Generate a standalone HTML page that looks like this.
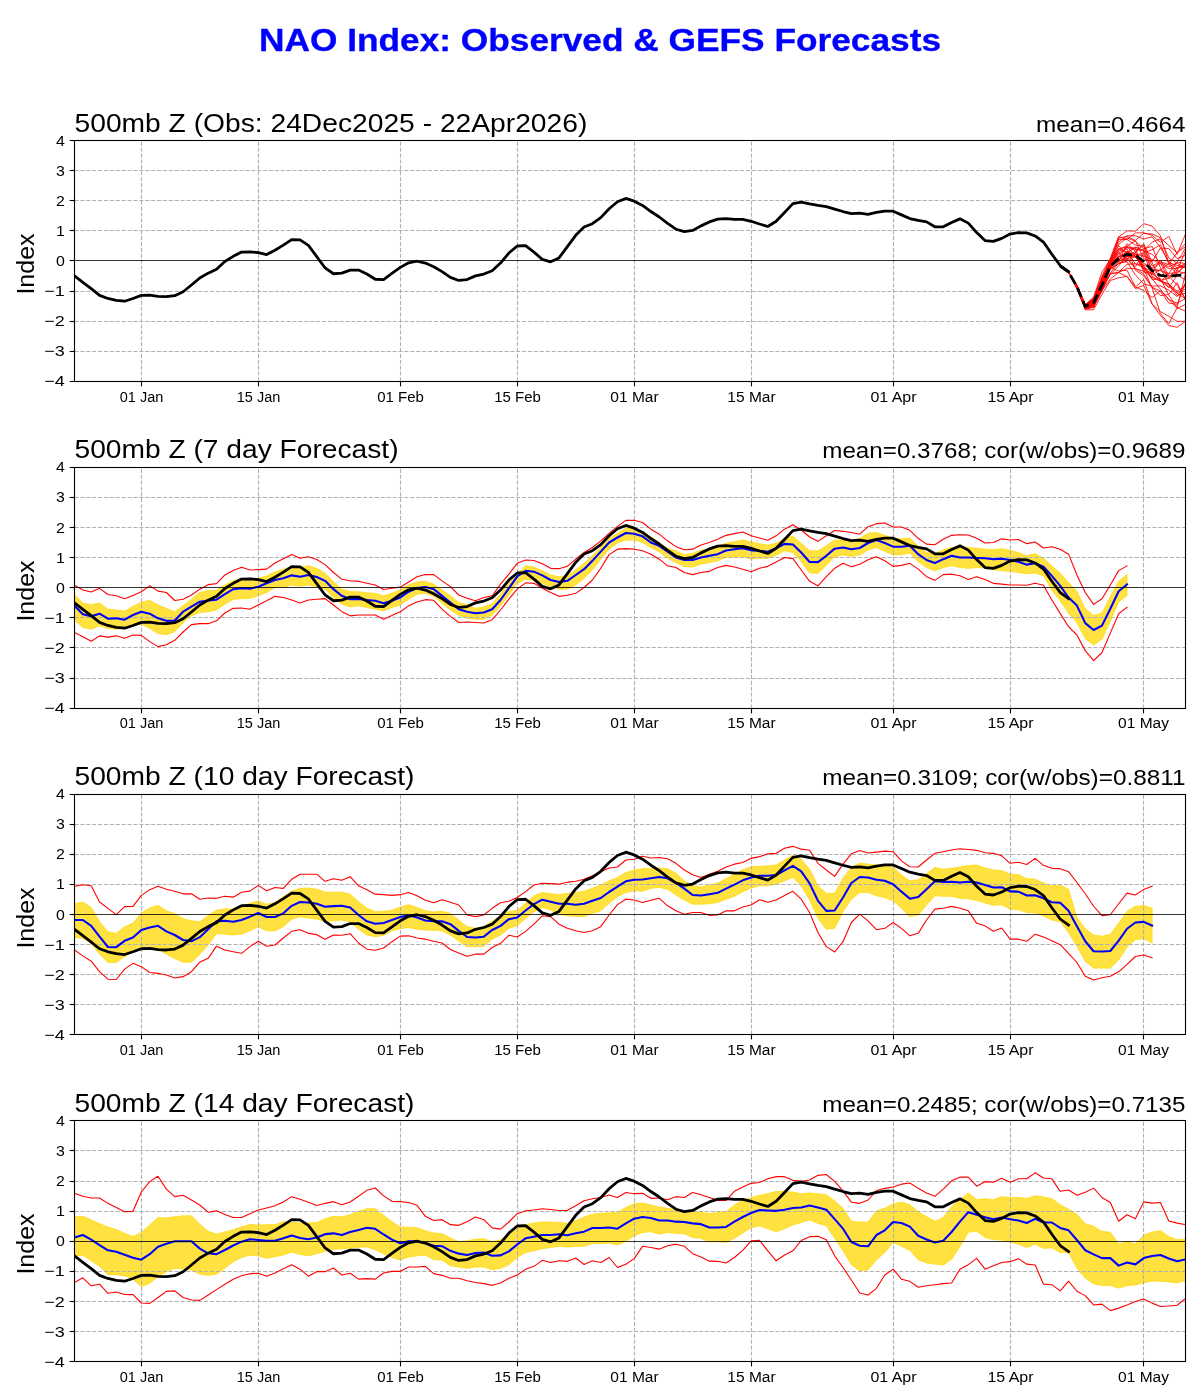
<!DOCTYPE html>
<html><head><meta charset="utf-8"><title>NAO Index</title>
<style>
html,body{margin:0;padding:0;background:#fff;overflow:hidden;}
svg{display:block;font-family:"Liberation Sans", sans-serif;will-change:transform;}
.gh{stroke:#b0b0b0;stroke-width:1.11;stroke-dasharray:4.11 1.78;}
.gv{stroke:#b0b0b0;stroke-width:1.11;stroke-dasharray:4.11 1.78;}
.zl{stroke:#000;stroke-width:0.8;}
.tk{stroke:#000;stroke-width:1.11;}
.obs{fill:none;stroke:#000;stroke-width:2.78;stroke-linejoin:round;stroke-linecap:square;}
.emean{fill:none;stroke:#000;stroke-width:2.78;stroke-dasharray:9.94 4.25;stroke-linejoin:round;}
.mem{fill:none;stroke:#ff0000;stroke-width:0.85;stroke-linejoin:round;}
.red{fill:none;stroke:#ff0000;stroke-width:1.1;stroke-linejoin:round;stroke-linecap:square;}
.blue{fill:none;stroke:#0000ff;stroke-width:2.08;stroke-linejoin:round;stroke-linecap:square;}
.band{fill:#ffe140;stroke:#ffd910;stroke-width:0.8;}
</style></head>
<body>
<svg width="1200" height="1400" viewBox="0 0 1200 1400">
<rect width="1200" height="1400" fill="#fff"/>
<text x="600" y="50.8" font-size="31.30" text-anchor="middle" textLength="682.09" lengthAdjust="spacingAndGlyphs" font-weight="bold" fill="#0000ff" stroke="#0000ff" stroke-width="0.35">NAO Index: Observed &amp; GEFS Forecasts</text>
<clipPath id="c0"><rect x="74.5" y="140.5" width="1111" height="241"/></clipPath>
<g clip-path="url(#c0)">
<line x1="74.5" y1="170.5" x2="1185.5" y2="170.5" class="gh"/>
<line x1="74.5" y1="200.5" x2="1185.5" y2="200.5" class="gh"/>
<line x1="74.5" y1="230.5" x2="1185.5" y2="230.5" class="gh"/>
<line x1="74.5" y1="291.5" x2="1185.5" y2="291.5" class="gh"/>
<line x1="74.5" y1="321.5" x2="1185.5" y2="321.5" class="gh"/>
<line x1="74.5" y1="351.5" x2="1185.5" y2="351.5" class="gh"/>
<line x1="141.5" y1="381.5" x2="141.5" y2="140.5" class="gv"/>
<line x1="258.5" y1="381.5" x2="258.5" y2="140.5" class="gv"/>
<line x1="400.5" y1="381.5" x2="400.5" y2="140.5" class="gv"/>
<line x1="517.5" y1="381.5" x2="517.5" y2="140.5" class="gv"/>
<line x1="634.5" y1="381.5" x2="634.5" y2="140.5" class="gv"/>
<line x1="751.5" y1="381.5" x2="751.5" y2="140.5" class="gv"/>
<line x1="893.5" y1="381.5" x2="893.5" y2="140.5" class="gv"/>
<line x1="1010.5" y1="381.5" x2="1010.5" y2="140.5" class="gv"/>
<line x1="1143.5" y1="381.5" x2="1143.5" y2="140.5" class="gv"/>
<line x1="74.5" y1="260.5" x2="1185.5" y2="260.5" class="zl"/>
<polyline points="1060.2,266.12 1068.55,272.15 1076.91,285.8 1085.26,305.93 1093.61,299.78 1101.97,281.29 1110.32,263.6 1118.67,251.29 1127.03,247.64 1135.38,249.39 1143.73,250.79 1152.09,242.1 1160.44,238.84 1168.79,257.86 1177.15,263.4 1185.5,268.04" class="mem"/>
<polyline points="1060.2,266.12 1068.55,272.15 1076.91,286.95 1085.26,307.38 1093.61,304.37 1101.97,286.06 1110.32,268.04 1118.67,263.53 1127.03,261.01 1135.38,256.37 1143.73,267.5 1152.09,271.13 1160.44,281.1 1168.79,286.6 1177.15,292.81 1185.5,289" class="mem"/>
<polyline points="1060.2,266.12 1068.55,272.15 1076.91,286.42 1085.26,305.82 1093.61,300.26 1101.97,279.21 1110.32,266.99 1118.67,260.66 1127.03,251.07 1135.38,263.89 1143.73,264.91 1152.09,268.89 1160.44,270.64 1168.79,273.44 1177.15,261.96 1185.5,248.17" class="mem"/>
<polyline points="1060.2,266.12 1068.55,272.15 1076.91,285.16 1085.26,305.19 1093.61,298.97 1101.97,281.24 1110.32,264.53 1118.67,239.32 1127.03,239.6 1135.38,232.88 1143.73,232.79 1152.09,235.29 1160.44,242.46 1168.79,236.3 1177.15,254.49 1185.5,233.96" class="mem"/>
<polyline points="1060.2,266.12 1068.55,272.15 1076.91,285.69 1085.26,305.09 1093.61,297.63 1101.97,278.07 1110.32,261.18 1118.67,238.01 1127.03,236.47 1135.38,240.35 1143.73,233.48 1152.09,233.96 1160.44,237.67 1168.79,245.65 1177.15,252.64 1185.5,243.68" class="mem"/>
<polyline points="1060.2,266.12 1068.55,272.15 1076.91,287.96 1085.26,308.56 1093.61,306.87 1101.97,289.21 1110.32,267.52 1118.67,270.98 1127.03,270.16 1135.38,286.91 1143.73,290.52 1152.09,297.53 1160.44,290.63 1168.79,299.09 1177.15,308.42 1185.5,304.31" class="mem"/>
<polyline points="1060.2,266.12 1068.55,272.15 1076.91,287.23 1085.26,306.69 1093.61,303.65 1101.97,284.62 1110.32,264.98 1118.67,253.09 1127.03,248.73 1135.38,270.24 1143.73,275.92 1152.09,287.23 1160.44,295.62 1168.79,294.49 1177.15,282.79 1185.5,299.81" class="mem"/>
<polyline points="1060.2,266.12 1068.55,272.15 1076.91,286.55 1085.26,306.02 1093.61,299.87 1101.97,279.86 1110.32,263.02 1118.67,249.05 1127.03,246.27 1135.38,256.63 1143.73,269.5 1152.09,273.33 1160.44,280.81 1168.79,277.98 1177.15,267.63 1185.5,267.41" class="mem"/>
<polyline points="1060.2,266.12 1068.55,272.15 1076.91,288.72 1085.26,309.8 1093.61,309.8 1101.97,294.28 1110.32,280.58 1118.67,277.78 1127.03,276.35 1135.38,287.05 1143.73,279.55 1152.09,304.03 1160.44,315.42 1168.79,325.47 1177.15,327.27 1185.5,321.25" class="mem"/>
<polyline points="1060.2,266.12 1068.55,272.15 1076.91,286.45 1085.26,306.72 1093.61,305.51 1101.97,287.78 1110.32,264.44 1118.67,256.47 1127.03,256.32 1135.38,256.91 1143.73,267.08 1152.09,279.63 1160.44,278.55 1168.79,295.13 1177.15,307.42 1185.5,273.67" class="mem"/>
<polyline points="1060.2,266.12 1068.55,272.15 1076.91,287.18 1085.26,309.41 1093.61,307.06 1101.97,290.08 1110.32,272.68 1118.67,263.28 1127.03,261.72 1135.38,274.86 1143.73,284.07 1152.09,286.1 1160.44,285.87 1168.79,290.19 1177.15,296.59 1185.5,283.31" class="mem"/>
<polyline points="1060.2,266.12 1068.55,272.15 1076.91,286.34 1085.26,306.47 1093.61,305.01 1101.97,286.6 1110.32,266.43 1118.67,257.03 1127.03,252.13 1135.38,253.72 1143.73,265.88 1152.09,278.63 1160.44,289.25 1168.79,299.77 1177.15,303.12 1185.5,298.58" class="mem"/>
<polyline points="1060.2,266.12 1068.55,272.15 1076.91,286.2 1085.26,305.81 1093.61,302.46 1101.97,279.91 1110.32,259.94 1118.67,237.03 1127.03,230.88 1135.38,231.18 1143.73,223.64 1152.09,226.06 1160.44,235.83 1168.79,262.98 1177.15,265.3 1185.5,267.43" class="mem"/>
<polyline points="1060.2,266.12 1068.55,272.15 1076.91,286.03 1085.26,306.8 1093.61,303.83 1101.97,288.57 1110.32,274.27 1118.67,265.82 1127.03,255.59 1135.38,255.98 1143.73,252.6 1152.09,249.79 1160.44,244.61 1168.79,263.98 1177.15,274.64 1185.5,280.37" class="mem"/>
<polyline points="1060.2,266.12 1068.55,272.15 1076.91,286.38 1085.26,305.64 1093.61,299.8 1101.97,282.7 1110.32,264.85 1118.67,252.96 1127.03,259.18 1135.38,254.3 1143.73,256.11 1152.09,259.45 1160.44,263.63 1168.79,268.54 1177.15,268.61 1185.5,263.78" class="mem"/>
<polyline points="1060.2,266.12 1068.55,272.15 1076.91,286.56 1085.26,306.78 1093.61,303.47 1101.97,283.13 1110.32,264.45 1118.67,261.58 1127.03,256.87 1135.38,251.35 1143.73,244.59 1152.09,272.44 1160.44,259.95 1168.79,275.98 1177.15,273.66 1185.5,264.92" class="mem"/>
<polyline points="1060.2,266.12 1068.55,272.15 1076.91,285.8 1085.26,305.85 1093.61,300.28 1101.97,280.07 1110.32,260.99 1118.67,245.69 1127.03,254.8 1135.38,256.31 1143.73,263.34 1152.09,267.97 1160.44,263.29 1168.79,278.73 1177.15,270.66 1185.5,250.89" class="mem"/>
<polyline points="1060.2,266.12 1068.55,272.15 1076.91,285.21 1085.26,304.68 1093.61,297.15 1101.97,272.31 1110.32,259.22 1118.67,241.97 1127.03,235.73 1135.38,235.69 1143.73,239.1 1152.09,236.76 1160.44,247.62 1168.79,261.35 1177.15,268.06 1185.5,263.12" class="mem"/>
<polyline points="1060.2,266.12 1068.55,272.15 1076.91,287.17 1085.26,307.22 1093.61,304.84 1101.97,288.77 1110.32,265.3 1118.67,255.62 1127.03,246.97 1135.38,248.03 1143.73,269.01 1152.09,287.82 1160.44,313.67 1168.79,323.55 1177.15,307.66 1185.5,311.1" class="mem"/>
<polyline points="1060.2,266.12 1068.55,272.15 1076.91,286.41 1085.26,306.58 1093.61,301.9 1101.97,285.17 1110.32,265.32 1118.67,256.47 1127.03,253.17 1135.38,247.13 1143.73,250.93 1152.09,254.24 1160.44,262.32 1168.79,266.91 1177.15,262.65 1185.5,263.39" class="mem"/>
<polyline points="1060.2,266.12 1068.55,272.15 1076.91,285.42 1085.26,304.68 1093.61,298.48 1101.97,276.36 1110.32,258.26 1118.67,236.61 1127.03,239.5 1135.38,244.98 1143.73,246.32 1152.09,266.01 1160.44,261.6 1168.79,264.67 1177.15,252.43 1185.5,246.76" class="mem"/>
<polyline points="1060.2,266.12 1068.55,272.15 1076.91,285.86 1085.26,305.87 1093.61,301.08 1101.97,278.93 1110.32,264.38 1118.67,260.89 1127.03,258.69 1135.38,266.92 1143.73,252.53 1152.09,276.43 1160.44,281.48 1168.79,273.66 1177.15,272.4 1185.5,265.14" class="mem"/>
<polyline points="1060.2,266.12 1068.55,272.15 1076.91,285.61 1085.26,304.99 1093.61,299.89 1101.97,276.89 1110.32,261.71 1118.67,248.49 1127.03,252.15 1135.38,247.45 1143.73,250.16 1152.09,271.27 1160.44,270.02 1168.79,263.17 1177.15,271 1185.5,273.45" class="mem"/>
<polyline points="1060.2,266.12 1068.55,272.15 1076.91,286.96 1085.26,307.35 1093.61,307.07 1101.97,285.43 1110.32,269.18 1118.67,263.6 1127.03,258.74 1135.38,268.8 1143.73,271.08 1152.09,277.43 1160.44,281.19 1168.79,283.96 1177.15,293.27 1185.5,299" class="mem"/>
<polyline points="1060.2,266.12 1068.55,272.15 1076.91,286.71 1085.26,307.14 1093.61,304.23 1101.97,287.36 1110.32,264.78 1118.67,244.34 1127.03,237.9 1135.38,241.17 1143.73,248.87 1152.09,246.4 1160.44,267.95 1168.79,284.39 1177.15,291.13 1185.5,285.9" class="mem"/>
<polyline points="1060.2,266.12 1068.55,272.15 1076.91,287.16 1085.26,306.6 1093.61,304.37 1101.97,290.81 1110.32,278.93 1118.67,272.55 1127.03,276.66 1135.38,288.62 1143.73,285.42 1152.09,304.08 1160.44,311.62 1168.79,316.26 1177.15,321.35 1185.5,321.25" class="mem"/>
<polyline points="1060.2,266.12 1068.55,272.15 1076.91,288.72 1085.26,308.7 1093.61,306.82 1101.97,289.05 1110.32,274.04 1118.67,272.51 1127.03,268.37 1135.38,268.56 1143.73,273.92 1152.09,287.22 1160.44,291.21 1168.79,303.04 1177.15,304.36 1185.5,282.87" class="mem"/>
<polyline points="1060.2,266.12 1068.55,272.15 1076.91,286.19 1085.26,306.49 1093.61,301.48 1101.97,286.98 1110.32,267.16 1118.67,249.52 1127.03,246.21 1135.38,240.79 1143.73,258.68 1152.09,261.69 1160.44,248.02 1168.79,248.59 1177.15,258.7 1185.5,255.26" class="mem"/>
<polyline points="1060.2,266.12 1068.55,272.15 1076.91,287.49 1085.26,308.19 1093.61,307.32 1101.97,290.61 1110.32,273.63 1118.67,272.28 1127.03,264.27 1135.38,263.86 1143.73,267.63 1152.09,275.02 1160.44,269.94 1168.79,275.91 1177.15,285.37 1185.5,299.01" class="mem"/>
<polyline points="1060.2,266.12 1068.55,272.15 1076.91,287.23 1085.26,307.32 1093.61,306.02 1101.97,289.25 1110.32,269.29 1118.67,261.86 1127.03,243.75 1135.38,251.27 1143.73,272.18 1152.09,273.18 1160.44,279.77 1168.79,287.91 1177.15,275.19 1185.5,271.99" class="mem"/>
<polyline points="1060.2,266.12 1068.55,272.15 1076.91,287.51 1085.26,307.71 1093.61,304.05 1101.97,288.57 1110.32,268.03 1118.67,258.02 1127.03,258.47 1135.38,252.75 1143.73,243.81 1152.09,262.43 1160.44,280.43 1168.79,284.48 1177.15,295.44 1185.5,293.29" class="mem"/>
<polyline points="74.5,275.88 82.85,282.3 91.21,288.68 99.56,295.4 107.91,298.45 116.27,300.28 124.62,301.22 132.97,298.45 141.33,295.4 149.68,295.1 158.03,296.34 166.39,296.64 174.74,295.7 183.09,291.76 191.45,285.04 199.8,278.02 208.15,273.14 216.51,269.16 224.86,261.54 233.21,256.36 241.57,252.11 249.92,251.78 258.27,252.72 266.63,254.55 274.98,250.28 283.33,245.09 291.69,239.58 300.04,239.91 308.39,245.4 316.75,256.66 325.1,267.96 333.45,273.74 341.81,273.14 350.16,270.1 358.52,270.1 366.87,274.04 375.22,279.26 383.58,279.56 391.93,273.44 400.28,267.36 408.64,262.78 416.99,261.24 425.34,263.08 433.7,266.72 442.05,271.6 450.4,277.42 458.76,280.46 467.11,279.56 475.46,275.88 483.82,274.04 492.17,270.7 500.52,263.08 508.88,253.02 517.23,246 525.58,245.7 533.94,252.11 542.29,259.4 550.64,261.84 559,257.9 567.35,246.6 575.7,235.33 584.06,227.08 592.41,223.74 600.76,217.62 609.12,208.79 617.47,201.77 625.82,198.43 634.18,201.17 642.53,205.42 650.88,211.53 659.24,217.02 667.59,223.43 675.94,229.22 684.3,231.66 692.65,230.45 701,225.87 709.36,221.9 717.71,219.16 726.06,218.55 734.42,219.46 742.77,219.46 751.12,221.3 759.48,224.04 767.83,226.48 776.18,221.3 784.54,212.44 792.89,203.61 801.24,202.08 809.6,203.91 817.95,205.42 826.3,206.65 834.66,209.09 843.01,211.53 851.36,213.67 859.72,213.07 868.07,214.28 876.42,212.44 884.78,211.23 893.13,211.23 901.48,214.88 909.84,218.55 918.19,220.39 926.55,221.9 934.9,226.78 943.25,226.78 951.61,222.5 959.96,218.86 968.31,223.13 976.67,232.59 985.02,240.51 993.37,241.42 1001.73,238.38 1010.08,234.1 1018.43,232.59 1026.79,232.89 1035.14,235.94 1043.49,242.02 1051.85,254.22 1060.2,265.52 1068.55,271.6" class="obs"/>
<polyline points="1060.2,266.12 1068.55,272.15 1076.91,286.61 1085.26,306.49 1093.61,302.57 1101.97,285.1 1110.32,266.42 1118.67,258.59 1127.03,254.37 1135.38,255.28 1143.73,261.3 1152.09,270.64 1160.44,275.46 1168.79,276.36 1177.15,275.46 1185.5,274.86" class="emean"/>
</g>
<rect x="74.5" y="140.5" width="1111" height="241" fill="none" stroke="#000" stroke-width="1.1"/>
<line x1="69.64" y1="140.5" x2="74.5" y2="140.5" class="tk"/>
<text x="64.78" y="146" font-size="14.72" text-anchor="end" textLength="8.84" lengthAdjust="spacingAndGlyphs" fill="#000">4</text>
<line x1="69.64" y1="170.5" x2="74.5" y2="170.5" class="tk"/>
<text x="64.78" y="176" font-size="14.72" text-anchor="end" textLength="8.84" lengthAdjust="spacingAndGlyphs" fill="#000">3</text>
<line x1="69.64" y1="200.5" x2="74.5" y2="200.5" class="tk"/>
<text x="64.78" y="206" font-size="14.72" text-anchor="end" textLength="8.84" lengthAdjust="spacingAndGlyphs" fill="#000">2</text>
<line x1="69.64" y1="230.5" x2="74.5" y2="230.5" class="tk"/>
<text x="64.78" y="236" font-size="14.72" text-anchor="end" textLength="8.84" lengthAdjust="spacingAndGlyphs" fill="#000">1</text>
<line x1="69.64" y1="260.5" x2="74.5" y2="260.5" class="tk"/>
<text x="64.78" y="266" font-size="14.72" text-anchor="end" textLength="8.84" lengthAdjust="spacingAndGlyphs" fill="#000">0</text>
<line x1="69.64" y1="291.5" x2="74.5" y2="291.5" class="tk"/>
<text x="64.78" y="296" font-size="14.72" text-anchor="end" textLength="20.48" lengthAdjust="spacingAndGlyphs" fill="#000">−1</text>
<line x1="69.64" y1="321.5" x2="74.5" y2="321.5" class="tk"/>
<text x="64.78" y="326" font-size="14.72" text-anchor="end" textLength="20.48" lengthAdjust="spacingAndGlyphs" fill="#000">−2</text>
<line x1="69.64" y1="351.5" x2="74.5" y2="351.5" class="tk"/>
<text x="64.78" y="356" font-size="14.72" text-anchor="end" textLength="20.48" lengthAdjust="spacingAndGlyphs" fill="#000">−3</text>
<line x1="69.64" y1="381.5" x2="74.5" y2="381.5" class="tk"/>
<text x="64.78" y="386" font-size="14.72" text-anchor="end" textLength="20.48" lengthAdjust="spacingAndGlyphs" fill="#000">−4</text>
<line x1="141.5" y1="381.5" x2="141.5" y2="386.36" class="tk"/>
<text x="141.5" y="402.2" font-size="14.72" text-anchor="middle" textLength="43.50" lengthAdjust="spacingAndGlyphs" fill="#000">01 Jan</text>
<line x1="258.5" y1="381.5" x2="258.5" y2="386.36" class="tk"/>
<text x="258.5" y="402.2" font-size="14.72" text-anchor="middle" textLength="43.50" lengthAdjust="spacingAndGlyphs" fill="#000">15 Jan</text>
<line x1="400.5" y1="381.5" x2="400.5" y2="386.36" class="tk"/>
<text x="400.5" y="402.2" font-size="14.72" text-anchor="middle" textLength="46.68" lengthAdjust="spacingAndGlyphs" fill="#000">01 Feb</text>
<line x1="517.5" y1="381.5" x2="517.5" y2="386.36" class="tk"/>
<text x="517.5" y="402.2" font-size="14.72" text-anchor="middle" textLength="46.68" lengthAdjust="spacingAndGlyphs" fill="#000">15 Feb</text>
<line x1="634.5" y1="381.5" x2="634.5" y2="386.36" class="tk"/>
<text x="634.5" y="402.2" font-size="14.72" text-anchor="middle" textLength="48.30" lengthAdjust="spacingAndGlyphs" fill="#000">01 Mar</text>
<line x1="751.5" y1="381.5" x2="751.5" y2="386.36" class="tk"/>
<text x="751.5" y="402.2" font-size="14.72" text-anchor="middle" textLength="48.30" lengthAdjust="spacingAndGlyphs" fill="#000">15 Mar</text>
<line x1="893.5" y1="381.5" x2="893.5" y2="386.36" class="tk"/>
<text x="893.5" y="402.2" font-size="14.72" text-anchor="middle" textLength="46.12" lengthAdjust="spacingAndGlyphs" fill="#000">01 Apr</text>
<line x1="1010.5" y1="381.5" x2="1010.5" y2="386.36" class="tk"/>
<text x="1010.5" y="402.2" font-size="14.72" text-anchor="middle" textLength="46.12" lengthAdjust="spacingAndGlyphs" fill="#000">15 Apr</text>
<line x1="1143.5" y1="381.5" x2="1143.5" y2="386.36" class="tk"/>
<text x="1143.5" y="402.2" font-size="14.72" text-anchor="middle" textLength="50.81" lengthAdjust="spacingAndGlyphs" fill="#000">01 May</text>
<text x="74.5" y="131.67" font-size="26.49" text-anchor="start" textLength="512.83" lengthAdjust="spacingAndGlyphs" fill="#000">500mb Z (Obs: 24Dec2025 - 22Apr2026)</text>
<text x="1185.5" y="131.67" font-size="22.07" text-anchor="end" textLength="149.41" lengthAdjust="spacingAndGlyphs" fill="#000">mean=0.4664</text>
<text x="0" y="0" font-size="23.54" text-anchor="middle" textLength="61.17" lengthAdjust="spacingAndGlyphs" transform="translate(33.8,264) rotate(-90)">Index</text>
<clipPath id="c1"><rect x="74.5" y="467.5" width="1111" height="241"/></clipPath>
<g clip-path="url(#c1)">
<polygon points="74.5,594.18 82.85,603.33 91.21,604.66 99.56,603 107.91,609.18 116.27,609.99 124.62,611.35 132.97,606.35 141.33,602.16 149.68,600.32 158.03,604.99 166.39,608.33 174.74,611.68 183.09,605.83 191.45,599.18 199.8,592.49 208.15,590.83 216.51,590.32 224.86,584.99 233.21,580.83 241.57,578.66 249.92,579.17 258.27,578.33 266.63,575.83 274.98,572 283.33,569.17 291.69,566.67 300.04,567 308.39,565.83 316.75,568.33 325.1,573.33 333.45,581.67 341.81,589.17 350.16,591.68 358.52,591.68 366.87,592.82 375.22,593.33 383.58,595.83 391.93,593.33 400.28,589.99 408.64,584.99 416.99,582.01 425.34,581.34 433.7,584.17 442.05,589.99 450.4,595.83 458.76,602.49 467.11,604.99 475.46,608.33 483.82,607.01 492.17,603.66 500.52,594.18 508.88,583.33 517.23,574.17 525.58,565.83 533.94,567 542.29,570.83 550.64,574.99 559,576.67 567.35,575.83 575.7,569.99 584.06,563.33 592.41,555.83 600.76,547.51 609.12,538.32 617.47,533.32 625.82,528.32 634.18,529.17 642.53,531.67 650.88,537 659.24,542.51 667.59,548.33 675.94,550.83 684.3,554.65 692.65,553.33 701,550.34 709.36,548.33 717.71,545.83 726.06,543.32 734.42,541.67 742.77,540.01 751.12,542 759.48,543.66 767.83,545.01 776.18,543.32 784.54,538.32 792.89,536.34 801.24,543.32 809.6,550.83 817.95,550.83 826.3,545.83 834.66,540.01 843.01,540.01 851.36,540.82 859.72,538.32 868.07,533.32 876.42,532.51 884.78,535.34 893.13,538.32 901.48,538.84 909.84,537.99 918.19,546.34 926.55,552.51 934.9,553.66 943.25,549.68 951.61,547.51 959.96,546.67 968.31,547.51 976.67,548.33 985.02,549.17 993.37,549.68 1001.73,548.66 1010.08,550.34 1018.43,552.51 1026.79,555.83 1035.14,553.66 1043.49,558.33 1051.85,565.83 1060.2,573.33 1068.55,582.49 1076.91,591.25 1085.26,608.76 1093.61,615.62 1101.97,613.12 1110.32,596.89 1118.67,581.25 1127.03,574.38 1127.03,595.62 1118.67,601.89 1110.32,621.26 1101.97,639.36 1093.61,645 1085.26,638.76 1076.91,622.49 1068.55,613.34 1060.2,600.83 1051.85,589.99 1043.49,575.83 1035.14,573 1026.79,573.66 1018.43,572.49 1010.08,571.34 1001.73,570.83 993.37,569.65 985.02,568 976.67,567.51 968.31,568.33 959.96,567.51 951.61,565.83 943.25,567.51 934.9,570.83 926.55,567.51 918.19,561.67 909.84,552.99 901.48,554.65 893.13,555.01 884.78,551.34 876.42,547.51 868.07,550.01 859.72,555.01 851.36,556.34 843.01,555.01 834.66,556.67 826.3,565.35 817.95,573.33 809.6,573 801.24,561.67 792.89,552.51 784.54,550.83 776.18,555.34 767.83,558.33 759.48,558.33 751.12,559.17 742.77,556.67 734.42,557 726.06,557.51 717.71,560.83 709.36,562.51 701,564.17 692.65,567 684.3,566.67 675.94,562.51 667.59,558.33 659.24,551.67 650.88,547.51 642.53,542.51 634.18,540.01 625.82,540.01 617.47,542.99 609.12,549.17 600.76,559.17 592.41,569.99 584.06,578.33 575.7,584.99 567.35,589.17 559,589.17 550.64,586.67 542.29,583.33 533.94,579.99 525.58,579.17 517.23,583.33 508.88,594.99 500.52,605.83 492.17,614.99 483.82,619.18 475.46,619.18 467.11,618.34 458.76,615.32 450.4,609.99 442.05,603.33 433.7,596.34 425.34,593.33 416.99,594.18 408.64,599.18 400.28,604.99 391.93,607.49 383.58,610.83 375.22,609.18 366.87,607.49 358.52,605.83 350.16,607.01 341.81,604.18 333.45,597.49 325.1,589.17 316.75,586.67 308.39,584.99 300.04,586.16 291.69,584.99 283.33,587.16 274.98,587.49 266.63,592.49 258.27,595.83 249.92,598.33 241.57,598.66 233.21,599.18 224.86,604.18 216.51,609.99 208.15,611.68 199.8,612.49 191.45,615.84 183.09,622.49 174.74,631.68 166.39,634.66 158.03,633.67 149.68,628.34 141.33,624.18 132.97,625.32 124.62,628.01 116.27,629.18 107.91,628.34 99.56,625.84 91.21,629.18 82.85,627.49 74.5,619.99" class="band"/>
<line x1="74.5" y1="497.5" x2="1185.5" y2="497.5" class="gh"/>
<line x1="74.5" y1="527.5" x2="1185.5" y2="527.5" class="gh"/>
<line x1="74.5" y1="557.5" x2="1185.5" y2="557.5" class="gh"/>
<line x1="74.5" y1="617.5" x2="1185.5" y2="617.5" class="gh"/>
<line x1="74.5" y1="647.5" x2="1185.5" y2="647.5" class="gh"/>
<line x1="74.5" y1="678.5" x2="1185.5" y2="678.5" class="gh"/>
<line x1="141.5" y1="708.5" x2="141.5" y2="467.5" class="gv"/>
<line x1="258.5" y1="708.5" x2="258.5" y2="467.5" class="gv"/>
<line x1="400.5" y1="708.5" x2="400.5" y2="467.5" class="gv"/>
<line x1="517.5" y1="708.5" x2="517.5" y2="467.5" class="gv"/>
<line x1="634.5" y1="708.5" x2="634.5" y2="467.5" class="gv"/>
<line x1="751.5" y1="708.5" x2="751.5" y2="467.5" class="gv"/>
<line x1="893.5" y1="708.5" x2="893.5" y2="467.5" class="gv"/>
<line x1="1010.5" y1="708.5" x2="1010.5" y2="467.5" class="gv"/>
<line x1="1143.5" y1="708.5" x2="1143.5" y2="467.5" class="gv"/>
<polyline points="74.5,585.32 82.85,589.99 91.21,592.01 99.56,588.33 107.91,594.51 116.27,595.83 124.62,598.66 132.97,595.5 141.33,591.68 149.68,585.83 158.03,591.16 166.39,592.49 174.74,600.5 183.09,599.18 191.45,594.99 199.8,589.17 208.15,584.66 216.51,583.66 224.86,574.99 233.21,570.5 241.57,567.15 249.92,569.99 258.27,569.65 266.63,569.17 274.98,563 283.33,558.66 291.69,554.5 300.04,558.33 308.39,556.67 316.75,559.5 325.1,564.65 333.45,572.49 341.81,579.17 350.16,580.83 358.52,581.16 366.87,583.33 375.22,584.99 383.58,589.51 391.93,588.33 400.28,587.16 408.64,582.01 416.99,576.67 425.34,574.5 433.7,574.65 442.05,580.83 450.4,586.67 458.76,594.99 467.11,598.33 475.46,600.83 483.82,597.49 492.17,595.83 500.52,584.17 508.88,574.17 517.23,563.33 525.58,560.01 533.94,560.5 542.29,563.66 550.64,568.33 559,568.66 567.35,566.34 575.7,559.17 584.06,552.51 592.41,547.51 600.76,540.82 609.12,533.32 617.47,526.33 625.82,520.34 634.18,520.34 642.53,522.51 650.88,529.17 659.24,534.17 667.59,540.82 675.94,546.67 684.3,549.68 692.65,549.17 701,545.01 709.36,542.51 717.71,539.17 726.06,535.34 734.42,533.65 742.77,532 751.12,535.82 759.48,537.99 767.83,540.34 776.18,535.82 784.54,529.17 792.89,524.68 801.24,530.01 809.6,537 817.95,541.34 826.3,535.82 834.66,530.49 843.01,531.33 851.36,532.51 859.72,534.17 868.07,526.67 876.42,523.65 884.78,522.99 893.13,527 901.48,527 909.84,530.34 918.19,538.32 926.55,544.17 934.9,544.68 943.25,539.17 951.61,535.34 959.96,534.68 968.31,535.01 976.67,538.32 985.02,542.99 993.37,542.51 1001.73,538.84 1010.08,540.01 1018.43,539.5 1026.79,543.66 1035.14,542 1043.49,547.99 1051.85,546.67 1060.2,549.17 1068.55,554.17 1076.91,574.99 1085.26,592.49 1093.61,604.39 1101.97,598.75 1110.32,584.99 1118.67,570.62 1127.03,565.89" class="red"/>
<polyline points="74.5,632.49 82.85,636.65 91.21,641.17 99.56,635.84 107.91,637.16 116.27,635.84 124.62,638.34 132.97,635 141.33,635.33 149.68,641.65 158.03,646.65 166.39,644.67 174.74,640.33 183.09,632.01 191.45,624.66 199.8,623.67 208.15,623.67 216.51,620.84 224.86,613 233.21,608.33 241.57,608 249.92,609.18 258.27,604.99 266.63,600.83 274.98,596.34 283.33,597.49 291.69,599.99 300.04,603 308.39,599.99 316.75,599.18 325.1,598.66 333.45,604.99 341.81,611.68 350.16,615.84 358.52,614.99 366.87,614.99 375.22,614.99 383.58,619.18 391.93,615.5 400.28,611.68 408.64,605.83 416.99,602.01 425.34,599.66 433.7,600.32 442.05,609.18 450.4,616.35 458.76,622.49 467.11,622.01 475.46,622.49 483.82,623.01 492.17,619.66 500.52,609.99 508.88,599.18 517.23,589.17 525.58,582.82 533.94,583.33 542.29,588.33 550.64,592.49 559,596.34 567.35,595.32 575.7,593.33 584.06,587.49 592.41,579.99 600.76,568.33 609.12,554.65 617.47,549.17 625.82,548.66 634.18,549.17 642.53,550.83 650.88,554.17 659.24,559.17 667.59,565.83 675.94,567.51 684.3,572.49 692.65,574.65 701,572.49 709.36,571.34 717.71,567.51 726.06,565.35 734.42,567 742.77,569.17 751.12,571.67 759.48,568.33 767.83,566.34 776.18,562 784.54,557.51 792.89,558.66 801.24,569.99 809.6,581.34 817.95,585.83 826.3,576.67 834.66,568.33 843.01,563.33 851.36,566.67 859.72,564.17 868.07,559.65 876.42,556.67 884.78,560.83 893.13,566.34 901.48,565.35 909.84,563.33 918.19,569.17 926.55,576.67 934.9,580.35 943.25,574.65 951.61,574.17 959.96,575.83 968.31,579.5 976.67,576.67 985.02,579.5 993.37,583.33 1001.73,584.17 1010.08,584.99 1018.43,584.99 1026.79,585.32 1035.14,583.33 1043.49,585.32 1051.85,599.99 1060.2,613.34 1068.55,626.68 1076.91,635 1085.26,650.63 1093.61,660.63 1101.97,652.5 1110.32,633.13 1118.67,613.76 1127.03,607.25" class="red"/>
<polyline points="74.5,605.83 82.85,614.18 91.21,616.35 99.56,613.67 107.91,618.67 116.27,618.34 124.62,619.66 132.97,614.99 141.33,611.68 149.68,613.67 158.03,618.34 166.39,620.84 174.74,620.5 183.09,611.68 191.45,606.68 199.8,601.68 208.15,600.5 216.51,599.66 224.86,594.18 233.21,589.17 241.57,588.33 249.92,588.66 258.27,586.67 266.63,583.33 274.98,579.99 283.33,578.33 291.69,575.35 300.04,576.67 308.39,574.99 316.75,577 325.1,580.83 333.45,589.17 341.81,595.83 350.16,599.18 358.52,598.85 366.87,599.99 375.22,600.83 383.58,603.33 391.93,600.83 400.28,597.49 408.64,591.68 416.99,588 425.34,587.01 433.7,589.17 442.05,595.83 450.4,602.49 458.76,609.18 467.11,611.68 475.46,613.34 483.82,612.49 492.17,609.18 500.52,599.99 508.88,588.33 517.23,576.34 525.58,570.83 533.94,571.67 542.29,575.35 550.64,579.99 559,582.01 567.35,580.83 575.7,574.99 584.06,569.17 592.41,560.83 600.76,551.67 609.12,542.51 617.47,537.51 625.82,532.99 634.18,533.84 642.53,536.34 650.88,542.51 659.24,545.83 667.59,551.67 675.94,557.51 684.3,560.01 692.65,560.01 701,557.51 709.36,555.83 717.71,554.17 726.06,550.49 734.42,549.17 742.77,548.33 751.12,550.34 759.48,550.83 767.83,551.67 776.18,548.33 784.54,543.84 792.89,544.5 801.24,552.51 809.6,562 817.95,562.15 826.3,555.83 834.66,548.66 843.01,547.51 851.36,549.17 859.72,547.99 868.07,542.99 876.42,540.01 884.78,542.99 893.13,546.67 901.48,546.67 909.84,545.83 918.19,554.17 926.55,560.01 934.9,563 943.25,559.17 951.61,555.83 959.96,557.51 968.31,557.51 976.67,558 985.02,558.33 993.37,559.17 1001.73,558.66 1010.08,560.01 1018.43,561.67 1026.79,564.65 1035.14,563.33 1043.49,566.67 1051.85,575.83 1060.2,585.83 1068.55,597.49 1076.91,605.62 1085.26,623.13 1093.61,629.99 1101.97,625.63 1110.32,608.76 1118.67,591.25 1127.03,584.38" class="blue"/>
<line x1="74.5" y1="587.5" x2="1185.5" y2="587.5" class="zl"/>
<polyline points="74.5,602.88 82.85,609.3 91.21,615.68 99.56,622.4 107.91,625.45 116.27,627.28 124.62,628.22 132.97,625.45 141.33,622.4 149.68,622.1 158.03,623.34 166.39,623.64 174.74,622.7 183.09,618.76 191.45,612.04 199.8,605.02 208.15,600.14 216.51,596.16 224.86,588.54 233.21,583.36 241.57,579.11 249.92,578.78 258.27,579.72 266.63,581.55 274.98,577.28 283.33,572.09 291.69,566.58 300.04,566.91 308.39,572.4 316.75,583.66 325.1,594.96 333.45,600.74 341.81,600.14 350.16,597.1 358.52,597.1 366.87,601.04 375.22,606.26 383.58,606.56 391.93,600.44 400.28,594.36 408.64,589.78 416.99,588.24 425.34,590.08 433.7,593.72 442.05,598.6 450.4,604.42 458.76,607.46 467.11,606.56 475.46,602.88 483.82,601.04 492.17,597.7 500.52,590.08 508.88,580.02 517.23,573 525.58,572.7 533.94,579.11 542.29,586.4 550.64,588.84 559,584.9 567.35,573.6 575.7,562.33 584.06,554.08 592.41,550.74 600.76,544.62 609.12,535.79 617.47,528.77 625.82,525.43 634.18,528.17 642.53,532.42 650.88,538.53 659.24,544.02 667.59,550.43 675.94,556.22 684.3,558.66 692.65,557.45 701,552.87 709.36,548.9 717.71,546.16 726.06,545.55 734.42,546.46 742.77,546.46 751.12,548.3 759.48,551.04 767.83,553.48 776.18,548.3 784.54,539.44 792.89,530.61 801.24,529.08 809.6,530.91 817.95,532.42 826.3,533.65 834.66,536.09 843.01,538.53 851.36,540.67 859.72,540.07 868.07,541.28 876.42,539.44 884.78,538.23 893.13,538.23 901.48,541.88 909.84,545.55 918.19,547.39 926.55,548.9 934.9,553.78 943.25,553.78 951.61,549.5 959.96,545.86 968.31,550.13 976.67,559.59 985.02,567.51 993.37,568.42 1001.73,565.38 1010.08,561.1 1018.43,559.59 1026.79,559.89 1035.14,562.94 1043.49,569.02 1051.85,581.22 1060.2,592.52 1068.55,598.6" class="obs"/>
</g>
<rect x="74.5" y="467.5" width="1111" height="241" fill="none" stroke="#000" stroke-width="1.1"/>
<line x1="69.64" y1="467.5" x2="74.5" y2="467.5" class="tk"/>
<text x="64.78" y="472" font-size="14.72" text-anchor="end" textLength="8.84" lengthAdjust="spacingAndGlyphs" fill="#000">4</text>
<line x1="69.64" y1="497.5" x2="74.5" y2="497.5" class="tk"/>
<text x="64.78" y="502" font-size="14.72" text-anchor="end" textLength="8.84" lengthAdjust="spacingAndGlyphs" fill="#000">3</text>
<line x1="69.64" y1="527.5" x2="74.5" y2="527.5" class="tk"/>
<text x="64.78" y="533" font-size="14.72" text-anchor="end" textLength="8.84" lengthAdjust="spacingAndGlyphs" fill="#000">2</text>
<line x1="69.64" y1="557.5" x2="74.5" y2="557.5" class="tk"/>
<text x="64.78" y="563" font-size="14.72" text-anchor="end" textLength="8.84" lengthAdjust="spacingAndGlyphs" fill="#000">1</text>
<line x1="69.64" y1="587.5" x2="74.5" y2="587.5" class="tk"/>
<text x="64.78" y="593" font-size="14.72" text-anchor="end" textLength="8.84" lengthAdjust="spacingAndGlyphs" fill="#000">0</text>
<line x1="69.64" y1="617.5" x2="74.5" y2="617.5" class="tk"/>
<text x="64.78" y="623" font-size="14.72" text-anchor="end" textLength="20.48" lengthAdjust="spacingAndGlyphs" fill="#000">−1</text>
<line x1="69.64" y1="647.5" x2="74.5" y2="647.5" class="tk"/>
<text x="64.78" y="653" font-size="14.72" text-anchor="end" textLength="20.48" lengthAdjust="spacingAndGlyphs" fill="#000">−2</text>
<line x1="69.64" y1="678.5" x2="74.5" y2="678.5" class="tk"/>
<text x="64.78" y="683" font-size="14.72" text-anchor="end" textLength="20.48" lengthAdjust="spacingAndGlyphs" fill="#000">−3</text>
<line x1="69.64" y1="708.5" x2="74.5" y2="708.5" class="tk"/>
<text x="64.78" y="713" font-size="14.72" text-anchor="end" textLength="20.48" lengthAdjust="spacingAndGlyphs" fill="#000">−4</text>
<line x1="141.5" y1="708.5" x2="141.5" y2="713.36" class="tk"/>
<text x="141.5" y="728.2" font-size="14.72" text-anchor="middle" textLength="43.50" lengthAdjust="spacingAndGlyphs" fill="#000">01 Jan</text>
<line x1="258.5" y1="708.5" x2="258.5" y2="713.36" class="tk"/>
<text x="258.5" y="728.2" font-size="14.72" text-anchor="middle" textLength="43.50" lengthAdjust="spacingAndGlyphs" fill="#000">15 Jan</text>
<line x1="400.5" y1="708.5" x2="400.5" y2="713.36" class="tk"/>
<text x="400.5" y="728.2" font-size="14.72" text-anchor="middle" textLength="46.68" lengthAdjust="spacingAndGlyphs" fill="#000">01 Feb</text>
<line x1="517.5" y1="708.5" x2="517.5" y2="713.36" class="tk"/>
<text x="517.5" y="728.2" font-size="14.72" text-anchor="middle" textLength="46.68" lengthAdjust="spacingAndGlyphs" fill="#000">15 Feb</text>
<line x1="634.5" y1="708.5" x2="634.5" y2="713.36" class="tk"/>
<text x="634.5" y="728.2" font-size="14.72" text-anchor="middle" textLength="48.30" lengthAdjust="spacingAndGlyphs" fill="#000">01 Mar</text>
<line x1="751.5" y1="708.5" x2="751.5" y2="713.36" class="tk"/>
<text x="751.5" y="728.2" font-size="14.72" text-anchor="middle" textLength="48.30" lengthAdjust="spacingAndGlyphs" fill="#000">15 Mar</text>
<line x1="893.5" y1="708.5" x2="893.5" y2="713.36" class="tk"/>
<text x="893.5" y="728.2" font-size="14.72" text-anchor="middle" textLength="46.12" lengthAdjust="spacingAndGlyphs" fill="#000">01 Apr</text>
<line x1="1010.5" y1="708.5" x2="1010.5" y2="713.36" class="tk"/>
<text x="1010.5" y="728.2" font-size="14.72" text-anchor="middle" textLength="46.12" lengthAdjust="spacingAndGlyphs" fill="#000">15 Apr</text>
<line x1="1143.5" y1="708.5" x2="1143.5" y2="713.36" class="tk"/>
<text x="1143.5" y="728.2" font-size="14.72" text-anchor="middle" textLength="50.81" lengthAdjust="spacingAndGlyphs" fill="#000">01 May</text>
<text x="74.5" y="457.67" font-size="26.49" text-anchor="start" textLength="324.05" lengthAdjust="spacingAndGlyphs" fill="#000">500mb Z (7 day Forecast)</text>
<text x="1185.5" y="457.67" font-size="22.07" text-anchor="end" textLength="363.28" lengthAdjust="spacingAndGlyphs" fill="#000">mean=0.3768; cor(w/obs)=0.9689</text>
<text x="0" y="0" font-size="23.54" text-anchor="middle" textLength="61.17" lengthAdjust="spacingAndGlyphs" transform="translate(33.8,591) rotate(-90)">Index</text>
<clipPath id="c2"><rect x="74.5" y="794.5" width="1111" height="240"/></clipPath>
<g clip-path="url(#c2)">
<polygon points="74.5,903.82 82.85,901.99 91.21,907.51 99.56,921.67 107.91,931.66 116.27,933.34 124.62,926.68 132.97,923.32 141.33,913 149.68,907.99 158.03,905.32 166.39,910.84 174.74,913.66 183.09,918.82 191.45,920.83 199.8,921.67 208.15,915.82 216.51,910.33 224.86,908.83 233.21,909.16 241.57,906.67 249.92,903.34 258.27,900.82 266.63,904.18 274.98,902.5 283.33,896.68 291.69,891.34 300.04,888.34 308.39,888.01 316.75,889.18 325.1,892.18 333.45,892.18 341.81,892.18 350.16,894.16 358.52,901.66 366.87,907.99 375.22,911.68 383.58,911.32 391.93,910.33 400.28,907 408.64,904.66 416.99,907.51 425.34,910.84 433.7,912.01 442.05,911.32 450.4,913.33 458.76,919.99 467.11,926.68 475.46,928.33 483.82,926.68 492.17,921.34 500.52,915.82 508.88,911.68 517.23,910.33 525.58,903.34 533.94,895.84 542.29,892.51 550.64,893.68 559,894.67 567.35,893.32 575.7,892.51 584.06,891.34 592.41,888.34 600.76,885.01 609.12,880.84 617.47,877.51 625.82,872.5 634.18,870.01 642.53,868.66 650.88,868.66 659.24,868 667.59,868.66 675.94,873.34 684.3,880.84 692.65,885.82 701,886.99 709.36,885.01 717.71,883 726.06,878.68 734.42,874.18 742.77,869.68 751.12,866.68 759.48,866.32 767.83,865.84 776.18,865 784.54,859.99 792.89,855.34 801.24,859.18 809.6,869.17 817.95,885.82 826.3,893.32 834.66,893.32 843.01,878.32 851.36,867.49 859.72,862.99 868.07,864.16 876.42,865 884.78,865.84 893.13,867.01 901.48,874.99 909.84,880.84 918.19,879.67 926.55,873.67 934.9,867.49 943.25,869.17 951.61,868.33 959.96,867.01 968.31,865.51 976.67,865 985.02,868 993.37,870.01 1001.73,870.49 1010.08,874.18 1018.43,874.66 1026.79,878.68 1035.14,879.16 1043.49,883 1051.85,885.82 1060.2,885.01 1068.55,889.18 1076.91,917.5 1085.26,928.75 1093.61,934.99 1101.97,936.25 1110.32,934.36 1118.67,923.11 1127.03,911.26 1135.38,906.25 1143.73,905.62 1152.09,908.14 1152.09,943.12 1143.73,938.74 1135.38,939.76 1127.03,946.87 1118.67,960.01 1110.32,968.11 1101.97,968.11 1093.61,968.11 1085.26,961.24 1076.91,946.24 1068.55,932.5 1060.2,921.67 1051.85,919.99 1043.49,915.82 1035.14,912.82 1026.79,912.49 1018.43,909.67 1010.08,909.16 1001.73,904.66 993.37,905.32 985.02,903.01 976.67,900.49 968.31,898.66 959.96,898.33 951.61,896.32 943.25,896.32 934.9,895.84 926.55,904.99 918.19,915.01 909.84,916.66 901.48,908.32 893.13,900.82 884.78,897.49 876.42,895.84 868.07,892.51 859.72,892.51 851.36,899.17 843.01,911.68 834.66,928.33 826.3,929.17 817.95,918.34 809.6,900.01 801.24,885.82 792.89,877.51 784.54,880.84 776.18,884.17 767.83,885.82 759.48,885.82 751.12,888.01 742.77,891.67 734.42,896.32 726.06,899.17 717.71,902.5 709.36,903.67 701,904.18 692.65,904.18 684.3,900.01 675.94,895 667.59,889.18 659.24,887.5 650.88,888.34 642.53,891.34 634.18,890.83 625.82,892.51 617.47,896.68 609.12,903.34 600.76,910.84 592.41,913.33 584.06,916.66 575.7,916.33 567.35,915.82 559,914.17 550.64,910 542.29,907.51 533.94,911.68 525.58,918.34 517.23,925.84 508.88,928.33 500.52,934.99 492.17,939.16 483.82,946.33 475.46,946.66 467.11,946.66 458.76,941.32 450.4,934.99 442.05,930.82 433.7,930.34 425.34,930.01 416.99,929.17 408.64,927.49 400.28,928.66 391.93,930.82 383.58,935.32 375.22,936.67 366.87,934.99 358.52,929.17 350.16,921.67 341.81,919.99 333.45,920.83 325.1,921.34 316.75,919.18 308.39,918.01 300.04,916.66 291.69,919.18 283.33,926.68 274.98,930.82 266.63,930.82 258.27,926.68 249.92,930.82 241.57,934.18 233.21,934.99 224.86,934.18 216.51,933.67 208.15,945.01 199.8,954.16 191.45,962.17 183.09,962.17 174.74,958.66 166.39,954.16 158.03,949.18 149.68,945.82 141.33,946.66 132.97,951.67 124.62,956.68 116.27,962.5 107.91,962.5 99.56,954.16 91.21,943.33 82.85,938.32 74.5,937.51" class="band"/>
<line x1="74.5" y1="824.5" x2="1185.5" y2="824.5" class="gh"/>
<line x1="74.5" y1="854.5" x2="1185.5" y2="854.5" class="gh"/>
<line x1="74.5" y1="884.5" x2="1185.5" y2="884.5" class="gh"/>
<line x1="74.5" y1="944.5" x2="1185.5" y2="944.5" class="gh"/>
<line x1="74.5" y1="974.5" x2="1185.5" y2="974.5" class="gh"/>
<line x1="74.5" y1="1004.5" x2="1185.5" y2="1004.5" class="gh"/>
<line x1="141.5" y1="1034.5" x2="141.5" y2="794.5" class="gv"/>
<line x1="258.5" y1="1034.5" x2="258.5" y2="794.5" class="gv"/>
<line x1="400.5" y1="1034.5" x2="400.5" y2="794.5" class="gv"/>
<line x1="517.5" y1="1034.5" x2="517.5" y2="794.5" class="gv"/>
<line x1="634.5" y1="1034.5" x2="634.5" y2="794.5" class="gv"/>
<line x1="751.5" y1="1034.5" x2="751.5" y2="794.5" class="gv"/>
<line x1="893.5" y1="1034.5" x2="893.5" y2="794.5" class="gv"/>
<line x1="1010.5" y1="1034.5" x2="1010.5" y2="794.5" class="gv"/>
<line x1="1143.5" y1="1034.5" x2="1143.5" y2="794.5" class="gv"/>
<polyline points="74.5,886.33 82.85,884.68 91.21,885.82 99.56,901.99 107.91,908.32 116.27,914.68 124.62,906.67 132.97,906.34 141.33,895.33 149.68,889.66 158.03,886.33 166.39,889.18 174.74,891.34 183.09,893.83 191.45,893.68 199.8,899.17 208.15,898 216.51,898.33 224.86,896.32 233.21,897.16 241.57,892.18 249.92,891.16 258.27,885.34 266.63,890.83 274.98,887.5 283.33,888.34 291.69,879.16 300.04,874.18 308.39,874.18 316.75,874.18 325.1,881.32 333.45,878.68 341.81,880.33 350.16,876.67 358.52,885.82 366.87,889.66 375.22,894.16 383.58,894.67 391.93,895.33 400.28,894.67 408.64,892.51 416.99,895.84 425.34,900.34 433.7,902.83 442.05,899.68 450.4,902.17 458.76,904.99 467.11,915.01 475.46,916.66 483.82,915.01 492.17,908.32 500.52,902.83 508.88,901.33 517.23,897.49 525.58,891.67 533.94,885.01 542.29,883.33 550.64,883.66 559,884.17 567.35,882.16 575.7,881.32 584.06,879.16 592.41,875.83 600.76,871.66 609.12,868 617.47,867.01 625.82,859.99 634.18,859.18 642.53,856.33 650.88,858.01 659.24,857.5 667.59,858.67 675.94,863.32 684.3,870.01 692.65,874.66 701,877.51 709.36,874.18 717.71,871.33 726.06,867.01 734.42,864.16 742.77,862.51 751.12,858.34 759.48,856.66 767.83,853.84 776.18,853.33 784.54,848.32 792.89,846.34 801.24,849.16 809.6,850.33 817.95,863.32 826.3,870.01 834.66,876.34 843.01,864.16 851.36,853.84 859.72,850.51 868.07,853 876.42,852.16 884.78,851.17 893.13,851.68 901.48,860.83 909.84,866.68 918.19,867.01 926.55,859.99 934.9,853.33 943.25,851.68 951.61,850 959.96,848.83 968.31,849.49 976.67,850.33 985.02,852.82 993.37,853.33 1001.73,855.82 1010.08,863.32 1018.43,862.18 1026.79,864.49 1035.14,858.34 1043.49,865.33 1051.85,868.33 1060.2,868.66 1068.55,871.66 1076.91,882.49 1085.26,893.74 1093.61,906.25 1101.97,915.61 1110.32,914.74 1118.67,903.76 1127.03,893.14 1135.38,895 1143.73,889.39 1152.09,886.24" class="red"/>
<polyline points="74.5,949.99 82.85,955.84 91.21,961.18 99.56,971.68 107.91,979.18 116.27,979.51 124.62,969.16 132.97,963.34 141.33,966.67 149.68,972.49 158.03,973.33 166.39,975.01 174.74,978.01 183.09,976.66 191.45,971.68 199.8,962.17 208.15,958.33 216.51,946.18 224.86,949.99 233.21,951.67 241.57,953.32 249.92,946.66 258.27,941.32 266.63,946.18 274.98,945.01 283.33,937.99 291.69,931.33 300.04,929.68 308.39,933.34 316.75,934.66 325.1,939.16 333.45,934.99 341.81,935.32 350.16,933.67 358.52,943 366.87,949.18 375.22,950.32 383.58,948.01 391.93,941.68 400.28,936.16 408.64,935.83 416.99,937.99 425.34,939.16 433.7,941.32 442.05,943 450.4,949.51 458.76,952.99 467.11,956.17 475.46,954.16 483.82,954.16 492.17,947.5 500.52,943.33 508.88,935.32 517.23,937 525.58,931.33 533.94,924.16 542.29,915.82 550.64,916.66 559,924.16 567.35,928.33 575.7,930.82 584.06,932.5 592.41,930.82 600.76,926.68 609.12,915.01 617.47,904.66 625.82,899.17 634.18,900.01 642.53,902.5 650.88,900.34 659.24,898.33 667.59,905.83 675.94,910.84 684.3,914.17 692.65,912.49 701,912.49 709.36,915.34 717.71,915.01 726.06,910.84 734.42,910.84 742.77,907 751.12,904.99 759.48,899.68 767.83,902.17 776.18,900.01 784.54,895.51 792.89,891.34 801.24,899.17 809.6,912.49 817.95,932.5 826.3,946.66 834.66,952 843.01,941.68 851.36,922.51 859.72,914.17 868.07,920.83 876.42,929.68 884.78,928.33 893.13,922.51 901.48,928.33 909.84,935.83 918.19,933.34 926.55,919.99 934.9,909.16 943.25,908.32 951.61,906.34 959.96,908.32 968.31,910.84 976.67,923.32 985.02,925.84 993.37,931.33 1001.73,928 1010.08,939.16 1018.43,939.16 1026.79,941.32 1035.14,934.18 1043.49,937 1051.85,940.84 1060.2,944.68 1068.55,953.32 1076.91,962.5 1085.26,976.24 1093.61,979.99 1101.97,977.74 1110.32,976.24 1118.67,971.86 1127.03,964.36 1135.38,956.5 1143.73,955 1152.09,957.76" class="red"/>
<polyline points="74.5,919.99 82.85,919.99 91.21,925.84 99.56,936.67 107.91,946.99 116.27,947.17 124.62,940.84 132.97,937.51 141.33,930.01 149.68,927.49 158.03,925.84 166.39,931.33 174.74,934.99 183.09,940 191.45,941.32 199.8,937.18 208.15,929.17 216.51,921.34 224.86,920.83 233.21,921.67 241.57,919.99 249.92,916.66 258.27,913 266.63,916.99 274.98,916.99 283.33,913.33 291.69,905.83 300.04,901.99 308.39,902.5 316.75,903.67 325.1,906.67 333.45,906.16 341.81,905.83 350.16,907.51 358.52,915.01 366.87,921.34 375.22,923.83 383.58,922.99 391.93,919.99 400.28,916.99 408.64,915.34 416.99,917.5 425.34,920.5 433.7,921.34 442.05,921.34 450.4,924.16 458.76,930.82 467.11,937 475.46,937.51 483.82,936.67 492.17,930.01 500.52,925.84 508.88,919.18 517.23,917.5 525.58,910.51 533.94,904.18 542.29,899.68 550.64,901.66 559,903.67 567.35,903.82 575.7,904.66 584.06,903.67 592.41,900.82 600.76,898 609.12,892 617.47,886.66 625.82,881.32 634.18,879.67 642.53,879.49 650.88,878.32 659.24,877 667.59,878.32 675.94,883 684.3,888.67 692.65,895 701,895.51 709.36,894.16 717.71,892.84 726.06,888.67 734.42,884.68 742.77,880.33 751.12,877.51 759.48,875.83 767.83,875.83 776.18,874.99 784.54,870.34 792.89,865.84 801.24,871.33 809.6,883.33 817.95,900.82 826.3,910.84 834.66,910.51 843.01,897.49 851.36,883 859.72,877 868.07,877.51 876.42,879.67 884.78,880.84 893.13,884.17 901.48,891.67 909.84,898.66 918.19,897.01 926.55,889.18 934.9,881.32 943.25,882.01 951.61,881.68 959.96,882.49 968.31,881.68 976.67,882.49 985.02,885.01 993.37,887.5 1001.73,887.17 1010.08,891.34 1018.43,891.67 1026.79,895.51 1035.14,895.33 1043.49,898.33 1051.85,902.17 1060.2,902.83 1068.55,910.84 1076.91,926.26 1085.26,941.26 1093.61,951.25 1101.97,951.49 1110.32,951.01 1118.67,940.63 1127.03,928.75 1135.38,922.51 1143.73,921.88 1152.09,925.63" class="blue"/>
<line x1="74.5" y1="914.5" x2="1185.5" y2="914.5" class="zl"/>
<polyline points="74.5,929.32 82.85,935.71 91.21,942.07 99.56,948.76 107.91,951.79 116.27,953.62 124.62,954.55 132.97,951.79 141.33,948.76 149.68,948.46 158.03,949.69 166.39,949.99 174.74,949.06 183.09,945.13 191.45,938.44 199.8,931.45 208.15,926.59 216.51,922.63 224.86,915.04 233.21,909.88 241.57,905.65 249.92,905.32 258.27,906.25 266.63,908.08 274.98,903.82 283.33,898.66 291.69,893.17 300.04,893.5 308.39,898.96 316.75,910.18 325.1,921.43 333.45,927.19 341.81,926.59 350.16,923.56 358.52,923.56 366.87,927.49 375.22,932.68 383.58,932.98 391.93,926.89 400.28,920.83 408.64,916.27 416.99,914.74 425.34,916.57 433.7,920.2 442.05,925.06 450.4,930.85 458.76,933.88 467.11,932.98 475.46,929.32 483.82,927.49 492.17,924.16 500.52,916.57 508.88,906.55 517.23,899.56 525.58,899.26 533.94,905.65 542.29,912.91 550.64,915.34 559,911.41 567.35,900.16 575.7,888.94 584.06,880.72 592.41,877.39 600.76,871.3 609.12,862.51 617.47,855.52 625.82,852.19 634.18,854.92 642.53,859.15 650.88,865.24 659.24,870.7 667.59,877.09 675.94,882.85 684.3,885.28 692.65,884.08 701,879.52 709.36,875.56 717.71,872.83 726.06,872.23 734.42,873.13 742.77,873.13 751.12,874.96 759.48,877.69 767.83,880.12 776.18,874.96 784.54,866.14 792.89,857.35 801.24,855.82 809.6,857.65 817.95,859.15 826.3,860.38 834.66,862.81 843.01,865.24 851.36,867.37 859.72,866.77 868.07,867.97 876.42,866.14 884.78,864.94 893.13,864.94 901.48,868.57 909.84,872.23 918.19,874.06 926.55,875.56 934.9,880.42 943.25,880.42 951.61,876.16 959.96,872.53 968.31,876.79 976.67,886.21 985.02,894.1 993.37,895 1001.73,891.97 1010.08,887.71 1018.43,886.21 1026.79,886.51 1035.14,889.54 1043.49,895.6 1051.85,907.75 1060.2,919 1068.55,925.06" class="obs"/>
</g>
<rect x="74.5" y="794.5" width="1111" height="240" fill="none" stroke="#000" stroke-width="1.1"/>
<line x1="69.64" y1="794.5" x2="74.5" y2="794.5" class="tk"/>
<text x="64.78" y="799" font-size="14.72" text-anchor="end" textLength="8.84" lengthAdjust="spacingAndGlyphs" fill="#000">4</text>
<line x1="69.64" y1="824.5" x2="74.5" y2="824.5" class="tk"/>
<text x="64.78" y="829" font-size="14.72" text-anchor="end" textLength="8.84" lengthAdjust="spacingAndGlyphs" fill="#000">3</text>
<line x1="69.64" y1="854.5" x2="74.5" y2="854.5" class="tk"/>
<text x="64.78" y="859" font-size="14.72" text-anchor="end" textLength="8.84" lengthAdjust="spacingAndGlyphs" fill="#000">2</text>
<line x1="69.64" y1="884.5" x2="74.5" y2="884.5" class="tk"/>
<text x="64.78" y="889" font-size="14.72" text-anchor="end" textLength="8.84" lengthAdjust="spacingAndGlyphs" fill="#000">1</text>
<line x1="69.64" y1="914.5" x2="74.5" y2="914.5" class="tk"/>
<text x="64.78" y="920" font-size="14.72" text-anchor="end" textLength="8.84" lengthAdjust="spacingAndGlyphs" fill="#000">0</text>
<line x1="69.64" y1="944.5" x2="74.5" y2="944.5" class="tk"/>
<text x="64.78" y="950" font-size="14.72" text-anchor="end" textLength="20.48" lengthAdjust="spacingAndGlyphs" fill="#000">−1</text>
<line x1="69.64" y1="974.5" x2="74.5" y2="974.5" class="tk"/>
<text x="64.78" y="980" font-size="14.72" text-anchor="end" textLength="20.48" lengthAdjust="spacingAndGlyphs" fill="#000">−2</text>
<line x1="69.64" y1="1004.5" x2="74.5" y2="1004.5" class="tk"/>
<text x="64.78" y="1010" font-size="14.72" text-anchor="end" textLength="20.48" lengthAdjust="spacingAndGlyphs" fill="#000">−3</text>
<line x1="69.64" y1="1034.5" x2="74.5" y2="1034.5" class="tk"/>
<text x="64.78" y="1040" font-size="14.72" text-anchor="end" textLength="20.48" lengthAdjust="spacingAndGlyphs" fill="#000">−4</text>
<line x1="141.5" y1="1034.5" x2="141.5" y2="1039.36" class="tk"/>
<text x="141.5" y="1055.2" font-size="14.72" text-anchor="middle" textLength="43.50" lengthAdjust="spacingAndGlyphs" fill="#000">01 Jan</text>
<line x1="258.5" y1="1034.5" x2="258.5" y2="1039.36" class="tk"/>
<text x="258.5" y="1055.2" font-size="14.72" text-anchor="middle" textLength="43.50" lengthAdjust="spacingAndGlyphs" fill="#000">15 Jan</text>
<line x1="400.5" y1="1034.5" x2="400.5" y2="1039.36" class="tk"/>
<text x="400.5" y="1055.2" font-size="14.72" text-anchor="middle" textLength="46.68" lengthAdjust="spacingAndGlyphs" fill="#000">01 Feb</text>
<line x1="517.5" y1="1034.5" x2="517.5" y2="1039.36" class="tk"/>
<text x="517.5" y="1055.2" font-size="14.72" text-anchor="middle" textLength="46.68" lengthAdjust="spacingAndGlyphs" fill="#000">15 Feb</text>
<line x1="634.5" y1="1034.5" x2="634.5" y2="1039.36" class="tk"/>
<text x="634.5" y="1055.2" font-size="14.72" text-anchor="middle" textLength="48.30" lengthAdjust="spacingAndGlyphs" fill="#000">01 Mar</text>
<line x1="751.5" y1="1034.5" x2="751.5" y2="1039.36" class="tk"/>
<text x="751.5" y="1055.2" font-size="14.72" text-anchor="middle" textLength="48.30" lengthAdjust="spacingAndGlyphs" fill="#000">15 Mar</text>
<line x1="893.5" y1="1034.5" x2="893.5" y2="1039.36" class="tk"/>
<text x="893.5" y="1055.2" font-size="14.72" text-anchor="middle" textLength="46.12" lengthAdjust="spacingAndGlyphs" fill="#000">01 Apr</text>
<line x1="1010.5" y1="1034.5" x2="1010.5" y2="1039.36" class="tk"/>
<text x="1010.5" y="1055.2" font-size="14.72" text-anchor="middle" textLength="46.12" lengthAdjust="spacingAndGlyphs" fill="#000">15 Apr</text>
<line x1="1143.5" y1="1034.5" x2="1143.5" y2="1039.36" class="tk"/>
<text x="1143.5" y="1055.2" font-size="14.72" text-anchor="middle" textLength="50.81" lengthAdjust="spacingAndGlyphs" fill="#000">01 May</text>
<text x="74.5" y="784.67" font-size="26.49" text-anchor="start" textLength="339.95" lengthAdjust="spacingAndGlyphs" fill="#000">500mb Z (10 day Forecast)</text>
<text x="1185.5" y="784.67" font-size="22.07" text-anchor="end" textLength="363.28" lengthAdjust="spacingAndGlyphs" fill="#000">mean=0.3109; cor(w/obs)=0.8811</text>
<text x="0" y="0" font-size="23.54" text-anchor="middle" textLength="61.17" lengthAdjust="spacingAndGlyphs" transform="translate(33.8,918) rotate(-90)">Index</text>
<clipPath id="c3"><rect x="74.5" y="1120.5" width="1111" height="241"/></clipPath>
<g clip-path="url(#c3)">
<polygon points="74.5,1216.66 82.85,1216.33 91.21,1220 99.56,1223.68 107.91,1226.99 116.27,1229.49 124.62,1233.35 132.97,1236.66 141.33,1232.5 149.68,1225 158.03,1217.5 166.39,1218.01 174.74,1216.66 183.09,1215.85 191.45,1215.85 199.8,1224.16 208.15,1231.33 216.51,1234.16 224.86,1231.99 233.21,1229.67 241.57,1226.99 249.92,1224.49 258.27,1225 266.63,1224.67 274.98,1224.67 283.33,1221.66 291.69,1222.5 300.04,1222.99 308.39,1222.99 316.75,1222.5 325.1,1218.68 333.45,1216.33 341.81,1216.99 350.16,1214.67 358.52,1211.33 366.87,1208.68 375.22,1208.68 383.58,1215.33 391.93,1221.66 400.28,1226.99 408.64,1227.17 416.99,1227.84 425.34,1230.85 433.7,1232.99 442.05,1233.68 450.4,1237.99 458.76,1241.66 467.11,1240.82 475.46,1239.16 483.82,1238.68 492.17,1241.66 500.52,1240.01 508.88,1235.01 517.23,1228.35 525.58,1224.67 533.94,1222.99 542.29,1221.99 550.64,1221.99 559,1222.5 567.35,1223.35 575.7,1220.85 584.06,1217.17 592.41,1214.16 600.76,1213.35 609.12,1213.01 617.47,1212.5 625.82,1207.5 634.18,1203.68 642.53,1203.01 650.88,1205 659.24,1206.99 667.59,1208.34 675.94,1210 684.3,1210.84 692.65,1210.33 701,1212.17 709.36,1213.68 717.71,1212.5 726.06,1211.66 734.42,1205 742.77,1200.33 751.12,1197.5 759.48,1195.33 767.83,1193.67 776.18,1191.32 784.54,1191.66 792.89,1191.99 801.24,1193.82 809.6,1193.01 817.95,1193.67 826.3,1194.67 834.66,1200.84 843.01,1208.34 851.36,1221.33 859.72,1221.99 868.07,1222.17 876.42,1210.84 884.78,1208.34 893.13,1203.68 901.48,1202.17 909.84,1204.67 918.19,1211.66 926.55,1216.66 934.9,1221.33 943.25,1217.5 951.61,1206.66 959.96,1199.67 968.31,1193.01 976.67,1199.67 985.02,1198.67 993.37,1199.67 1001.73,1196.66 1010.08,1197.5 1018.43,1197.5 1026.79,1198.34 1035.14,1195.84 1043.49,1196.99 1051.85,1198.67 1060.2,1204.67 1068.55,1209.16 1076.91,1214.37 1085.26,1223.74 1093.61,1226.24 1101.97,1231.51 1110.32,1232.26 1118.67,1244.01 1127.03,1241.87 1135.38,1244.01 1143.73,1235.25 1152.09,1232.11 1160.44,1230.64 1168.79,1236.51 1177.15,1239.76 1185.5,1239.37 1185.5,1280.61 1177.15,1283.11 1168.79,1281.88 1160.44,1281.25 1152.09,1281.01 1143.73,1282.75 1135.38,1285.01 1127.03,1285.62 1118.67,1288.12 1110.32,1285.62 1101.97,1285.62 1093.61,1283.75 1085.26,1278.11 1076.91,1268.11 1068.55,1252.51 1060.2,1252.51 1051.85,1247.99 1043.49,1248.32 1035.14,1244.16 1026.79,1247.51 1018.43,1244.16 1010.08,1241.99 1001.73,1240.01 993.37,1239.67 985.02,1237.51 976.67,1231.33 968.31,1232.17 959.96,1246.66 951.61,1259.17 943.25,1265.01 934.9,1264.17 926.55,1262.99 918.19,1259.68 909.84,1250.34 901.48,1246.33 893.13,1242.51 884.78,1252.51 876.42,1260.01 868.07,1270.01 859.72,1270.82 851.36,1264.68 843.01,1250.82 834.66,1238.32 826.3,1225.85 817.95,1223.35 809.6,1220 801.24,1222.5 792.89,1225 784.54,1228.83 776.18,1231.66 767.83,1228.83 759.48,1225.85 751.12,1227.84 742.77,1232.99 734.42,1238.32 726.06,1242.51 717.71,1241.66 709.36,1241.99 701,1238.32 692.65,1237.51 684.3,1233.68 675.94,1233.35 667.59,1232.5 659.24,1234.16 650.88,1231.66 642.53,1232.5 634.18,1235.82 625.82,1241.33 617.47,1245.01 609.12,1242.99 600.76,1243.68 592.41,1243.32 584.06,1246.33 575.7,1246.33 567.35,1246.99 559,1246.33 550.64,1247.51 542.29,1248.65 533.94,1250.82 525.58,1252.51 517.23,1257.51 508.88,1264.68 500.52,1268.32 492.17,1269.68 483.82,1267 475.46,1267 467.11,1268.32 458.76,1267 450.4,1265.82 442.05,1260.01 433.7,1259.68 425.34,1255.01 416.99,1255.82 408.64,1257 400.28,1260.01 391.93,1257.51 383.58,1253.83 375.22,1249.68 366.87,1246.99 358.52,1247.18 350.16,1247.99 341.81,1248.83 333.45,1249.16 325.1,1251.33 316.75,1253.65 308.39,1255.82 300.04,1254.5 291.69,1252 283.33,1255.01 274.98,1256.66 266.63,1258.32 258.27,1255.82 249.92,1255.01 241.57,1257.51 233.21,1261.67 224.86,1268.32 216.51,1274.17 208.15,1275.34 199.8,1274.17 191.45,1270.01 183.09,1268.84 174.74,1268.32 166.39,1271.67 158.03,1276.67 149.68,1283.33 141.33,1286.67 132.97,1279.17 124.62,1275.82 116.27,1274.68 107.91,1274.68 99.56,1266.34 91.21,1260.82 82.85,1255.01 74.5,1256.66" class="band"/>
<line x1="74.5" y1="1150.5" x2="1185.5" y2="1150.5" class="gh"/>
<line x1="74.5" y1="1181.5" x2="1185.5" y2="1181.5" class="gh"/>
<line x1="74.5" y1="1211.5" x2="1185.5" y2="1211.5" class="gh"/>
<line x1="74.5" y1="1271.5" x2="1185.5" y2="1271.5" class="gh"/>
<line x1="74.5" y1="1301.5" x2="1185.5" y2="1301.5" class="gh"/>
<line x1="74.5" y1="1331.5" x2="1185.5" y2="1331.5" class="gh"/>
<line x1="141.5" y1="1361.5" x2="141.5" y2="1120.5" class="gv"/>
<line x1="258.5" y1="1361.5" x2="258.5" y2="1120.5" class="gv"/>
<line x1="400.5" y1="1361.5" x2="400.5" y2="1120.5" class="gv"/>
<line x1="517.5" y1="1361.5" x2="517.5" y2="1120.5" class="gv"/>
<line x1="634.5" y1="1361.5" x2="634.5" y2="1120.5" class="gv"/>
<line x1="751.5" y1="1361.5" x2="751.5" y2="1120.5" class="gv"/>
<line x1="893.5" y1="1361.5" x2="893.5" y2="1120.5" class="gv"/>
<line x1="1010.5" y1="1361.5" x2="1010.5" y2="1120.5" class="gv"/>
<line x1="1143.5" y1="1361.5" x2="1143.5" y2="1120.5" class="gv"/>
<polyline points="74.5,1193.34 82.85,1196.32 91.21,1198.01 99.56,1198.01 107.91,1203.34 116.27,1207.5 124.62,1211.66 132.97,1211.33 141.33,1191.99 149.68,1181.65 158.03,1176.32 166.39,1189.15 174.74,1196.66 183.09,1195.33 191.45,1200 199.8,1205 208.15,1212.17 216.51,1210.84 224.86,1214.49 233.21,1217.5 241.57,1217.5 249.92,1213.68 258.27,1210 266.63,1208.01 274.98,1205.84 283.33,1201.99 291.69,1196.66 300.04,1199.16 308.39,1202.17 316.75,1205.51 325.1,1203.34 333.45,1201.66 341.81,1204.67 350.16,1201.99 358.52,1196.32 366.87,1190.33 375.22,1188.01 383.58,1195.84 391.93,1201.33 400.28,1201.66 408.64,1202.5 416.99,1205.33 425.34,1216.33 433.7,1220.52 442.05,1219.67 450.4,1224.67 458.76,1225.34 467.11,1221.66 475.46,1216.99 483.82,1219.67 492.17,1227.84 500.52,1229.16 508.88,1221.99 517.23,1213.68 525.58,1210.84 533.94,1210 542.29,1208.68 550.64,1209.49 559,1210.51 567.35,1210.33 575.7,1205.84 584.06,1200.84 592.41,1198.83 600.76,1197.5 609.12,1195 617.47,1197.5 625.82,1192.5 634.18,1193.67 642.53,1193.34 650.88,1198.34 659.24,1198.01 667.59,1199.67 675.94,1196.66 684.3,1197.5 692.65,1192.5 701,1194.67 709.36,1197.5 717.71,1200.33 726.06,1200.33 734.42,1191.32 742.77,1186.99 751.12,1183.34 759.48,1182.5 767.83,1178.82 776.18,1176.65 784.54,1176.65 792.89,1180.33 801.24,1181.17 809.6,1180 817.95,1175.33 826.3,1174.51 834.66,1181.32 843.01,1190.84 851.36,1202.17 859.72,1203.34 868.07,1200 876.42,1190.51 884.78,1188.34 893.13,1186.99 901.48,1184.15 909.84,1183.01 918.19,1188.34 926.55,1193.01 934.9,1196.32 943.25,1189.15 951.61,1180.84 959.96,1177.17 968.31,1177.17 976.67,1186.17 985.02,1181.65 993.37,1182.17 1001.73,1178.34 1010.08,1182.17 1018.43,1178.82 1026.79,1178.82 1035.14,1172.83 1043.49,1178.01 1051.85,1178.82 1060.2,1191.32 1068.55,1190 1076.91,1195.24 1085.26,1192.26 1093.61,1188.13 1101.97,1197.5 1110.32,1202.5 1118.67,1221.24 1127.03,1214.76 1135.38,1218.74 1143.73,1201.87 1152.09,1203.13 1160.44,1202.5 1168.79,1221 1177.15,1223.14 1185.5,1224.61" class="red"/>
<polyline points="74.5,1282.51 82.85,1277.84 91.21,1285.83 99.56,1284.17 107.91,1293.33 116.27,1292 124.62,1294.5 132.97,1294.65 141.33,1303 149.68,1303.33 158.03,1297.51 166.39,1291.34 174.74,1290.83 183.09,1297.51 191.45,1300.01 199.8,1300.35 208.15,1295.01 216.51,1289.65 224.86,1284.17 233.21,1279.17 241.57,1275.82 249.92,1273.66 258.27,1273.32 266.63,1276.34 274.98,1272.99 283.33,1268.84 291.69,1264.68 300.04,1269.17 308.39,1276.16 316.75,1271.67 325.1,1271.67 333.45,1267.99 341.81,1275.01 350.16,1273.32 358.52,1279.17 366.87,1278.66 375.22,1279.17 383.58,1272.99 391.93,1271.34 400.28,1271.34 408.64,1267 416.99,1267 425.34,1266.34 433.7,1273.66 442.05,1275.34 450.4,1278.32 458.76,1278.32 467.11,1280.83 475.46,1282.51 483.82,1283.66 492.17,1285.34 500.52,1282.99 508.88,1278.32 517.23,1275.01 525.58,1269.17 533.94,1266.34 542.29,1260.34 550.64,1262.51 559,1260.82 567.35,1261.33 575.7,1257.99 584.06,1264.5 592.41,1260.82 600.76,1262.51 609.12,1257.51 617.47,1267.51 625.82,1264.17 634.18,1258.65 642.53,1246.33 650.88,1247.51 659.24,1249.16 667.59,1245.82 675.94,1244.16 684.3,1246.33 692.65,1253.65 701,1257 709.36,1261.15 717.71,1261.33 726.06,1262.99 734.42,1257.51 742.77,1250.34 751.12,1240.82 759.48,1240.34 767.83,1250.82 776.18,1260.82 784.54,1255.01 792.89,1250.82 801.24,1240.49 809.6,1236.66 817.95,1236.33 826.3,1239.67 834.66,1255.82 843.01,1267.51 851.36,1280.01 859.72,1293 868.07,1295.01 876.42,1288.33 884.78,1275.01 893.13,1269.17 901.48,1279.17 909.84,1281.34 918.19,1287.18 926.55,1285.83 934.9,1284.68 943.25,1283.66 951.61,1282.99 959.96,1269.17 968.31,1264.68 976.67,1258.32 985.02,1269.17 993.37,1265.82 1001.73,1262.51 1010.08,1261.67 1018.43,1258.65 1026.79,1264.17 1035.14,1265.01 1043.49,1284.17 1051.85,1284.68 1060.2,1290.83 1068.55,1281.16 1076.91,1291.25 1085.26,1295.62 1093.61,1304.99 1101.97,1304.11 1110.32,1310.62 1118.67,1308.12 1127.03,1304.99 1135.38,1301.49 1143.73,1298.99 1152.09,1303.12 1160.44,1306.49 1168.79,1306.01 1177.15,1305.26 1185.5,1298.51" class="red"/>
<polyline points="74.5,1237.51 82.85,1235.01 91.21,1239.67 99.56,1245.01 107.91,1250.34 116.27,1251.66 124.62,1254.68 132.97,1257.84 141.33,1259.68 149.68,1254.16 158.03,1246.66 166.39,1243.83 174.74,1241.33 183.09,1241.18 191.45,1241.33 199.8,1248.65 208.15,1253.32 216.51,1254.16 224.86,1250.01 233.21,1245.49 241.57,1241.66 249.92,1239.16 258.27,1240.01 266.63,1240.82 274.98,1240.82 283.33,1238.32 291.69,1235.49 300.04,1237.99 308.39,1239.16 316.75,1237.51 325.1,1234.16 333.45,1233.35 341.81,1235.01 350.16,1231.99 358.52,1230 366.87,1227.84 375.22,1228.83 383.58,1234.49 391.93,1239.67 400.28,1243.32 408.64,1241.18 416.99,1241.18 425.34,1242.99 433.7,1245.82 442.05,1246.18 450.4,1250.82 458.76,1253.65 467.11,1255.01 475.46,1252.99 483.82,1252.51 492.17,1255.82 500.52,1255.34 508.88,1251.33 517.23,1244.49 525.58,1238.32 533.94,1236.66 542.29,1235.01 550.64,1235.01 559,1234.16 567.35,1235.34 575.7,1233.35 584.06,1231.66 592.41,1227.99 600.76,1227.99 609.12,1227.5 617.47,1228.68 625.82,1223.35 634.18,1218.68 642.53,1216.99 650.88,1218.01 659.24,1220.52 667.59,1220.52 675.94,1221.66 684.3,1221.99 692.65,1223.35 701,1224.16 709.36,1227.5 717.71,1227.5 726.06,1226.99 734.42,1221.66 742.77,1216.99 751.12,1213.01 759.48,1210 767.83,1210.51 776.18,1210.84 784.54,1209.67 792.89,1208.01 801.24,1207.5 809.6,1205.51 817.95,1207.5 826.3,1209.67 834.66,1219.16 843.01,1228.68 851.36,1241.99 859.72,1245.82 868.07,1246.33 876.42,1235.01 884.78,1230.34 893.13,1221.99 901.48,1222.99 909.84,1226.66 918.19,1235.82 926.55,1239.49 934.9,1242.51 943.25,1240.82 951.61,1231.99 959.96,1221.66 968.31,1212.17 976.67,1214.67 985.02,1217.17 993.37,1219.16 1001.73,1217.5 1010.08,1219.16 1018.43,1220.52 1026.79,1222.99 1035.14,1218.83 1043.49,1222.5 1051.85,1222.5 1060.2,1227.99 1068.55,1230.34 1076.91,1240.01 1085.26,1250.25 1093.61,1254.38 1101.97,1258.11 1110.32,1258.11 1118.67,1265.61 1127.03,1262.51 1135.38,1264.38 1143.73,1258.11 1152.09,1256 1160.44,1255.01 1168.79,1258.5 1177.15,1261.24 1185.5,1259.38" class="blue"/>
<line x1="74.5" y1="1241.5" x2="1185.5" y2="1241.5" class="zl"/>
<polyline points="74.5,1255.88 82.85,1262.3 91.21,1268.68 99.56,1275.4 107.91,1278.45 116.27,1280.28 124.62,1281.22 132.97,1278.45 141.33,1275.4 149.68,1275.1 158.03,1276.34 166.39,1276.64 174.74,1275.7 183.09,1271.76 191.45,1265.04 199.8,1258.02 208.15,1253.14 216.51,1249.16 224.86,1241.54 233.21,1236.36 241.57,1232.11 249.92,1231.78 258.27,1232.72 266.63,1234.55 274.98,1230.28 283.33,1225.09 291.69,1219.58 300.04,1219.91 308.39,1225.4 316.75,1236.66 325.1,1247.96 333.45,1253.74 341.81,1253.14 350.16,1250.1 358.52,1250.1 366.87,1254.04 375.22,1259.26 383.58,1259.56 391.93,1253.44 400.28,1247.36 408.64,1242.78 416.99,1241.24 425.34,1243.08 433.7,1246.72 442.05,1251.6 450.4,1257.42 458.76,1260.46 467.11,1259.56 475.46,1255.88 483.82,1254.04 492.17,1250.7 500.52,1243.08 508.88,1233.02 517.23,1226 525.58,1225.7 533.94,1232.11 542.29,1239.4 550.64,1241.84 559,1237.9 567.35,1226.6 575.7,1215.33 584.06,1207.08 592.41,1203.74 600.76,1197.62 609.12,1188.79 617.47,1181.77 625.82,1178.43 634.18,1181.17 642.53,1185.42 650.88,1191.53 659.24,1197.02 667.59,1203.43 675.94,1209.22 684.3,1211.66 692.65,1210.45 701,1205.87 709.36,1201.9 717.71,1199.16 726.06,1198.55 734.42,1199.46 742.77,1199.46 751.12,1201.3 759.48,1204.04 767.83,1206.48 776.18,1201.3 784.54,1192.44 792.89,1183.61 801.24,1182.08 809.6,1183.91 817.95,1185.42 826.3,1186.65 834.66,1189.09 843.01,1191.53 851.36,1193.67 859.72,1193.07 868.07,1194.28 876.42,1192.44 884.78,1191.23 893.13,1191.23 901.48,1194.88 909.84,1198.55 918.19,1200.39 926.55,1201.9 934.9,1206.78 943.25,1206.78 951.61,1202.5 959.96,1198.86 968.31,1203.13 976.67,1212.59 985.02,1220.52 993.37,1221.42 1001.73,1218.38 1010.08,1214.1 1018.43,1212.59 1026.79,1212.89 1035.14,1215.94 1043.49,1222.02 1051.85,1234.22 1060.2,1245.52 1068.55,1251.6" class="obs"/>
</g>
<rect x="74.5" y="1120.5" width="1111" height="241" fill="none" stroke="#000" stroke-width="1.1"/>
<line x1="69.64" y1="1120.5" x2="74.5" y2="1120.5" class="tk"/>
<text x="64.78" y="1126" font-size="14.72" text-anchor="end" textLength="8.84" lengthAdjust="spacingAndGlyphs" fill="#000">4</text>
<line x1="69.64" y1="1150.5" x2="74.5" y2="1150.5" class="tk"/>
<text x="64.78" y="1156" font-size="14.72" text-anchor="end" textLength="8.84" lengthAdjust="spacingAndGlyphs" fill="#000">3</text>
<line x1="69.64" y1="1181.5" x2="74.5" y2="1181.5" class="tk"/>
<text x="64.78" y="1186" font-size="14.72" text-anchor="end" textLength="8.84" lengthAdjust="spacingAndGlyphs" fill="#000">2</text>
<line x1="69.64" y1="1211.5" x2="74.5" y2="1211.5" class="tk"/>
<text x="64.78" y="1216" font-size="14.72" text-anchor="end" textLength="8.84" lengthAdjust="spacingAndGlyphs" fill="#000">1</text>
<line x1="69.64" y1="1241.5" x2="74.5" y2="1241.5" class="tk"/>
<text x="64.78" y="1246" font-size="14.72" text-anchor="end" textLength="8.84" lengthAdjust="spacingAndGlyphs" fill="#000">0</text>
<line x1="69.64" y1="1271.5" x2="74.5" y2="1271.5" class="tk"/>
<text x="64.78" y="1276" font-size="14.72" text-anchor="end" textLength="20.48" lengthAdjust="spacingAndGlyphs" fill="#000">−1</text>
<line x1="69.64" y1="1301.5" x2="74.5" y2="1301.5" class="tk"/>
<text x="64.78" y="1307" font-size="14.72" text-anchor="end" textLength="20.48" lengthAdjust="spacingAndGlyphs" fill="#000">−2</text>
<line x1="69.64" y1="1331.5" x2="74.5" y2="1331.5" class="tk"/>
<text x="64.78" y="1337" font-size="14.72" text-anchor="end" textLength="20.48" lengthAdjust="spacingAndGlyphs" fill="#000">−3</text>
<line x1="69.64" y1="1361.5" x2="74.5" y2="1361.5" class="tk"/>
<text x="64.78" y="1367" font-size="14.72" text-anchor="end" textLength="20.48" lengthAdjust="spacingAndGlyphs" fill="#000">−4</text>
<line x1="141.5" y1="1361.5" x2="141.5" y2="1366.36" class="tk"/>
<text x="141.5" y="1382.2" font-size="14.72" text-anchor="middle" textLength="43.50" lengthAdjust="spacingAndGlyphs" fill="#000">01 Jan</text>
<line x1="258.5" y1="1361.5" x2="258.5" y2="1366.36" class="tk"/>
<text x="258.5" y="1382.2" font-size="14.72" text-anchor="middle" textLength="43.50" lengthAdjust="spacingAndGlyphs" fill="#000">15 Jan</text>
<line x1="400.5" y1="1361.5" x2="400.5" y2="1366.36" class="tk"/>
<text x="400.5" y="1382.2" font-size="14.72" text-anchor="middle" textLength="46.68" lengthAdjust="spacingAndGlyphs" fill="#000">01 Feb</text>
<line x1="517.5" y1="1361.5" x2="517.5" y2="1366.36" class="tk"/>
<text x="517.5" y="1382.2" font-size="14.72" text-anchor="middle" textLength="46.68" lengthAdjust="spacingAndGlyphs" fill="#000">15 Feb</text>
<line x1="634.5" y1="1361.5" x2="634.5" y2="1366.36" class="tk"/>
<text x="634.5" y="1382.2" font-size="14.72" text-anchor="middle" textLength="48.30" lengthAdjust="spacingAndGlyphs" fill="#000">01 Mar</text>
<line x1="751.5" y1="1361.5" x2="751.5" y2="1366.36" class="tk"/>
<text x="751.5" y="1382.2" font-size="14.72" text-anchor="middle" textLength="48.30" lengthAdjust="spacingAndGlyphs" fill="#000">15 Mar</text>
<line x1="893.5" y1="1361.5" x2="893.5" y2="1366.36" class="tk"/>
<text x="893.5" y="1382.2" font-size="14.72" text-anchor="middle" textLength="46.12" lengthAdjust="spacingAndGlyphs" fill="#000">01 Apr</text>
<line x1="1010.5" y1="1361.5" x2="1010.5" y2="1366.36" class="tk"/>
<text x="1010.5" y="1382.2" font-size="14.72" text-anchor="middle" textLength="46.12" lengthAdjust="spacingAndGlyphs" fill="#000">15 Apr</text>
<line x1="1143.5" y1="1361.5" x2="1143.5" y2="1366.36" class="tk"/>
<text x="1143.5" y="1382.2" font-size="14.72" text-anchor="middle" textLength="50.81" lengthAdjust="spacingAndGlyphs" fill="#000">01 May</text>
<text x="74.5" y="1111.67" font-size="26.49" text-anchor="start" textLength="339.95" lengthAdjust="spacingAndGlyphs" fill="#000">500mb Z (14 day Forecast)</text>
<text x="1185.5" y="1111.67" font-size="22.07" text-anchor="end" textLength="363.28" lengthAdjust="spacingAndGlyphs" fill="#000">mean=0.2485; cor(w/obs)=0.7135</text>
<text x="0" y="0" font-size="23.54" text-anchor="middle" textLength="61.17" lengthAdjust="spacingAndGlyphs" transform="translate(33.8,1244) rotate(-90)">Index</text>
</svg>
</body></html>
